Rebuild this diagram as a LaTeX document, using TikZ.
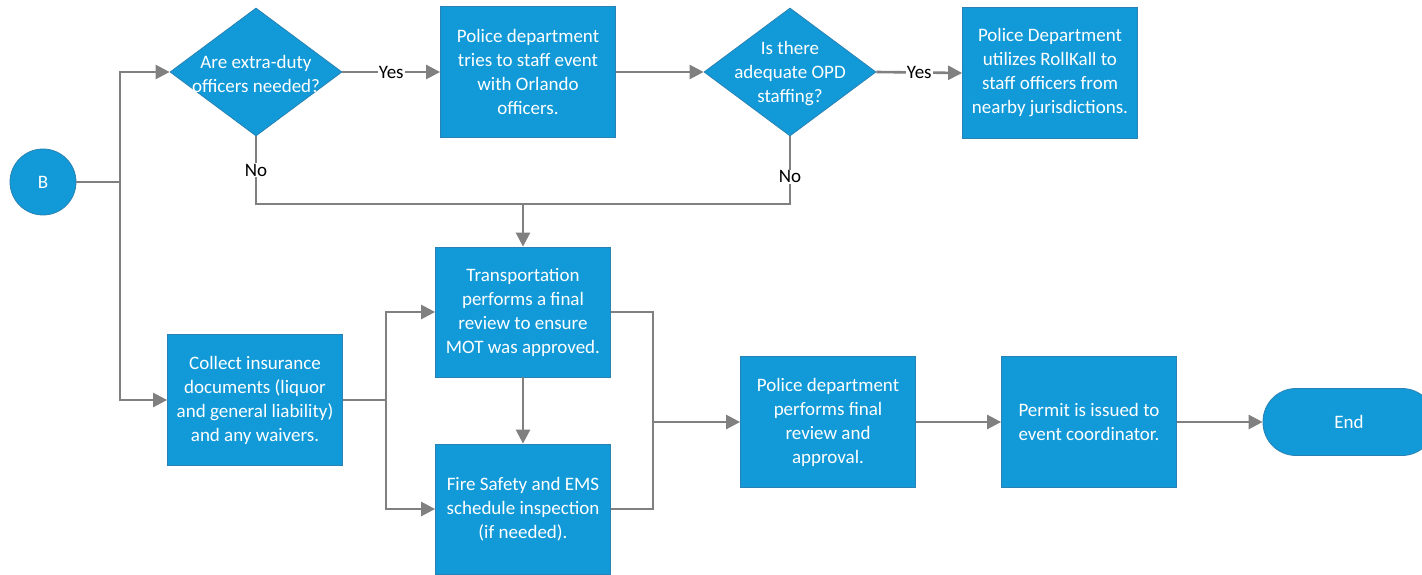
\documentclass[tikz,border=0pt]{standalone}
\usepackage{fontspec}
\setmainfont{Carlito}
\usetikzlibrary{shapes.geometric,arrows.meta}
\definecolor{boxblue}{RGB}{18,154,216}
\definecolor{edgeblue}{RGB}{40,130,180}
\definecolor{linegrey}{RGB}{128,128,128}
\tikzset{
  base/.style={fill=boxblue, draw=edgeblue, line width=0.8pt, text=white, align=center,
    font=\fontsize{19}{24}\selectfont, inner sep=2pt},
  procbox/.style={base, rectangle, minimum width=175pt, minimum height=131pt},
  decision/.style={diamond, fill=boxblue, draw=edgeblue, line width=0.8pt, inner sep=0pt,
    minimum width=172pt, minimum height=128pt},
  dtext/.style={text=white, align=center, font=\fontsize{19}{24}\selectfont, inner sep=0pt},
  startnode/.style={base, circle, minimum size=66pt, inner sep=0pt},
  endnode/.style={base, rectangle, rounded corners=33pt, minimum width=172pt, minimum height=67pt},
  conn/.style={draw=linegrey, line width=2.6pt},
  arrow/.style={conn, -{Triangle[length=14pt,width=14pt]}},
  lbl/.style={fill=white, text=black, font=\fontsize{19}{24}\selectfont, inner sep=1pt}
}
\begin{document}
\begin{tikzpicture}[x=1pt, y=-1pt]
\useasboundingbox (0,0) rectangle (1422,575);

% nodes
\node[startnode] (B) at (43,182) {B};
\node[decision] (d1) at (256,72) {};
\node[dtext] (d1t) at (256,74) {Are extra-duty\\officers needed?};
\node[procbox] (p1) at (528,72) {Police department\\tries to staff event\\with Orlando\\officers.};
\node[decision] (d2) at (790,72) {};
\node[dtext] (d2t) at (790,74) {Is there\\adequate OPD\\staffing?};
\node[procbox] (rk) at (1050,73) {Police Department\\utilizes RollKall to\\staff officers from\\nearby jurisdictions.};
\node[procbox] (col) at (255,400) {Collect insurance\\documents (liquor\\and general liability)\\and any waivers.};
\node[procbox, minimum height=130pt] (tr) at (523,312) {Transportation\\performs a final\\review to ensure\\MOT was approved.};
\node[procbox, minimum height=130pt] (fi) at (523,509) {Fire Safety and EMS\\schedule inspection\\(if needed).};
\node[procbox] (pf) at (828,422) {Police department\\performs final\\review and\\approval.};
\node[procbox] (pm) at (1089,422) {Permit is issued to\\event coordinator.};
\node[endnode] (en) at (1349,422) {End};

% junction coordinates
\coordinate (jB) at (120,182);
\coordinate (n1) at (256,204);
\coordinate (n2) at (790,204);
\coordinate (nm) at (523,204);
\coordinate (jc) at (386,400);
\coordinate (jm) at (653,422);

% connectors
\draw[conn] (B.east) -- (jB);
\draw[arrow] (jB) |- (d1.west);
\draw[arrow] (jB) |- (col.west);
\draw[arrow] (d1.east) -- node[lbl] {Yes} (p1.west);
\draw[arrow] (p1.east) -- (d2.west);
\draw[arrow] (d2.east) -- node[lbl] {Yes} (rk.west);
\draw[conn] (d1.south) -- node[lbl] {No} (n1) -- (n2) -- node[lbl, pos=0.4] {No} (d2.south);
\draw[arrow] (nm) -- (tr.north);
\draw[conn] (col.east) -- (jc);
\draw[arrow] (jc) |- (tr.west);
\draw[arrow] (jc) |- (fi.west);
\draw[arrow] (tr.south) -- (fi.north);
\draw[conn] (tr.east) -| (jm);
\draw[conn] (fi.east) -| (jm);
\draw[arrow] (jm) -- (pf.west);
\draw[arrow] (pf.east) -- (pm.west);
\draw[arrow] (pm.east) -- (en.west);
\end{tikzpicture}
\end{document}
